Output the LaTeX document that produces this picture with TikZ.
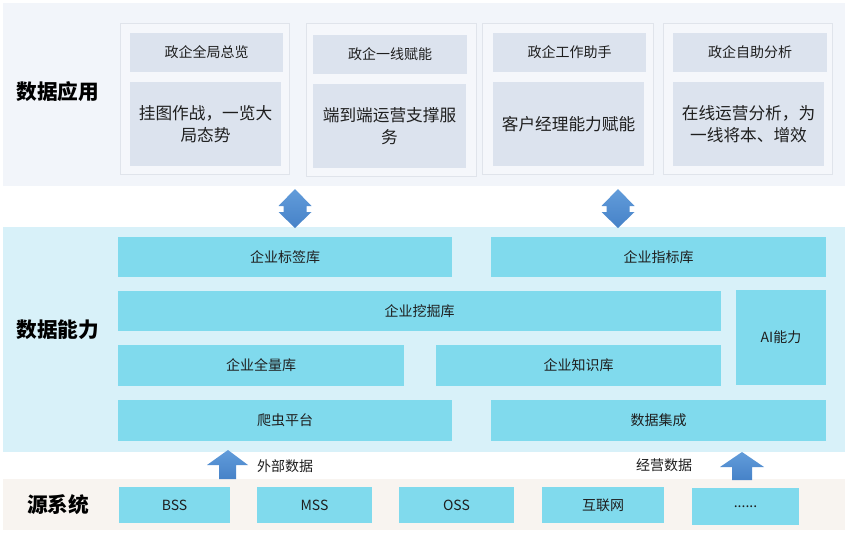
\documentclass[tikz,border=0pt]{standalone}
\usepackage{fontspec}
\setmainfont{Noto Sans CJK SC}
\usetikzlibrary{positioning}
\definecolor{topband}{RGB}{242,245,250}
\definecolor{midband}{RGB}{216,241,249}
\definecolor{botband}{RGB}{248,244,240}
\definecolor{cardfill}{RGB}{245,247,251}
\definecolor{cardline}{RGB}{224,228,235}
\definecolor{headfill}{RGB}{220,227,238}
\definecolor{cyanfill}{RGB}{128,218,237}
\definecolor{txt}{RGB}{30,30,30}
\definecolor{arrtop}{RGB}{98,156,218}
\definecolor{arrbot}{RGB}{70,130,200}
\newcommand\mybox[7]{\node[#1, minimum width={(#5-#3)*0.75pt}, minimum height={(#6-#4)*0.75pt}, inner sep=0pt] (#2) at ({(#3+#5)/2},{(#4+#6)/2}) {#7};}
\begin{document}
\begin{tikzpicture}[x=0.75pt,y=-0.75pt,
  band/.style={draw=none},
  card/.style={fill=cardfill,draw=cardline,line width=0.6pt},
  headbox/.style={fill=headfill,draw=none,text=txt,font=\fontsize{10.5}{13}\selectfont},
  bodybox/.style={fill=headfill,draw=none,text=txt,align=center,font=\fontsize{12.5}{16.5}\selectfont},
  cbox/.style={fill=cyanfill,draw=none,text=txt,font=\fontsize{10.5}{13}\selectfont},
  layerlabel/.style={text=black,font=\fontsize{15.5}{18}\selectfont\bfseries},
  flowlabel/.style={text=txt,font=\fontsize{10.5}{13}\selectfont},
  blockarrow/.style={top color=arrtop,bottom color=arrbot,draw=none}]
\useasboundingbox (0,0) rectangle (850,533);
\fill[white] (0,0) rectangle (850,533);
% bands
\mybox{band,fill=topband}{appband}{3}{3}{845}{186}{}
\mybox{band,fill=midband}{capband}{3}{227}{845}{452}{}
\mybox{band,fill=botband}{srcband}{3}{479}{845}{530}{}
% layer labels
\node[layerlabel] (lapp) at (58,92) {数据应用};
\node[layerlabel] (lcap) at (58,330) {数据能力};
\node[layerlabel] (lsrc) at (58,505) {源系统};
% application cards
\mybox{card}{c1}{120}{23}{289}{174}{}
\mybox{card}{c2}{306}{23}{476}{176}{}
\mybox{card}{c3}{482}{23}{653}{174}{}
\mybox{card}{c4}{663}{23}{832}{174}{}
\mybox{headbox}{h1}{130}{33}{283}{72}{政企全局总览}
\mybox{headbox}{h2}{313}{35}{467}{74}{政企一线赋能}
\mybox{headbox}{h3}{493}{33}{646}{72}{政企工作助手}
\mybox{headbox}{h4}{673}{33}{827}{72}{政企自助分析}
\mybox{bodybox}{b1}{130}{82}{281}{166}{挂图作战，一览大\\局态势}
\mybox{bodybox}{b2}{313}{84}{466}{168}{端到端运营支撑服\\务}
\mybox{bodybox}{b3}{493}{82}{644}{166}{客户经理能力赋能}
\mybox{bodybox}{b4}{673}{82}{824}{166}{在线运营分析，为\\一线将本、增效}
% double arrows
\foreach \cx/\nm in {295/da1,618/da2}{
  \path[blockarrow] (\cx,189) -- (\cx+16.5,206) -- (\cx+11.5,206) -- (\cx+11.5,212) -- (\cx+16.5,212)
     -- (\cx,228) -- (\cx-16.5,212) -- (\cx-11.5,212) -- (\cx-11.5,206) -- (\cx-16.5,206) -- cycle;
}
% capability boxes
\mybox{cbox}{tag}{118}{237}{452}{277}{企业标签库}
\mybox{cbox}{idx}{491}{237}{826}{277}{企业指标库}
\mybox{cbox}{mine}{118}{291}{721}{331}{企业挖掘库}
\mybox{cbox}{ai}{736}{290}{826}{385}{AI能力}
\mybox{cbox}{full}{118}{345}{404}{386}{企业全量库}
\mybox{cbox}{know}{436}{345}{721}{386}{企业知识库}
\mybox{cbox}{crawl}{118}{400}{452}{441}{爬虫平台}
\mybox{cbox}{integ}{491}{400}{826}{441}{数据集成}
% up arrows
\path[blockarrow] (228,450) -- (248,465) -- (236,465) -- (236,479) -- (219,479) -- (219,465) -- (207,465) -- cycle;
\path[blockarrow] (742,452) -- (764,467) -- (752,467) -- (752,480) -- (732,480) -- (732,467) -- (720,467) -- cycle;
\node[flowlabel] (ext) at (285,466) {外部数据};
\node[flowlabel] (ops) at (664,465) {经营数据};
% source systems
\mybox{cbox}{bss}{119}{487}{230}{523}{BSS}
\mybox{cbox}{mss}{257}{487}{372}{523}{MSS}
\mybox{cbox}{oss}{399}{487}{514}{523}{OSS}
\mybox{cbox}{net}{542}{487}{664}{523}{互联网}
\mybox{cbox}{etc}{692}{488}{799}{525}{......}
\end{tikzpicture}
\end{document}
